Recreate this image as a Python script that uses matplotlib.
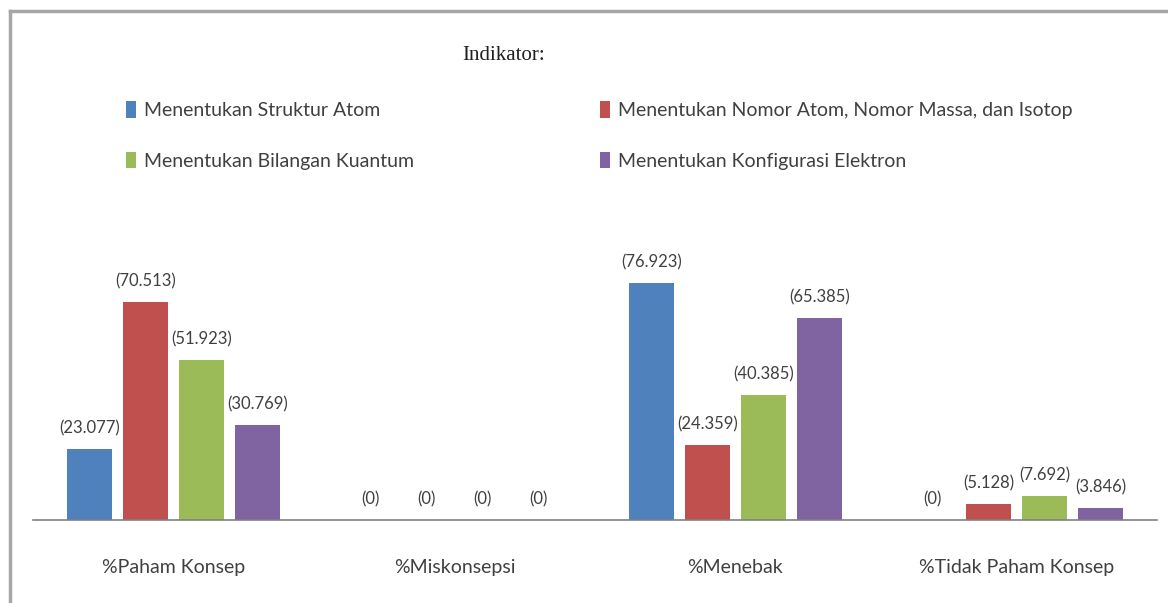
import numpy as np
import matplotlib
matplotlib.use('Agg')
from matplotlib import pyplot as plt
from matplotlib.lines import Line2D

categories = ['%Paham Konsep', '%Miskonsepsi', '%Menebak', '%Tidak Paham Konsep']
series = ['Menentukan Struktur Atom',
          'Menentukan Nomor Atom, Nomor Massa, dan Isotop',
          'Menentukan Bilangan Kuantum',
          'Menentukan Konfigurasi Elektron']
struktur = [23.077, 0, 76.923, 0]
nomor = [70.513, 0, 24.359, 5.128]
kuantum = [51.923, 0, 40.385, 7.692]
konfigurasi = [30.769, 0, 65.385, 3.846]
labels = [['(23.077)', '(0)', '(76.923)', '(0)'],
          ['(70.513)', '(0)', '(24.359)', '(5.128)'],
          ['(51.923)', '(0)', '(40.385)', '(7.692)'],
          ['(30.769)', '(0)', '(65.385)', '(3.846)']]
colors = ['#4F81BD', '#C0504D', '#9BBB59', '#8064A2']

SANS = ['Liberation Sans Narrow', 'Lato', 'DejaVu Sans']

fig = plt.figure(figsize=(11.68, 6.03), dpi=100)
ax = fig.add_axes([33 / 1168, 1 - 520 / 603, 1124 / 1168, 247 / 603])

x = np.arange(len(categories))
bars = []
for i, vals in enumerate([struktur, nomor, kuantum, konfigurasi]):
    b = ax.bar(x + (i - 1.5) * 0.2, vals, width=0.16, color=colors[i],
               label=series[i])
    bars.append(b)
    for rect, txt in zip(b, labels[i]):
        ax.annotate(txt, (rect.get_x() + rect.get_width() / 2, rect.get_height()),
                    xytext=(0, 9), textcoords='offset points', ha='center',
                    va='bottom', fontsize=12, color='#404040', family=SANS,
                    annotation_clip=False)

ax.set_xlim(-0.5, 3.5)
ax.set_ylim(0, 80)
ax.set_yticks([])
ax.set_xticks(x)
ax.set_xticklabels(categories, fontsize=14, color='#404040', family=SANS)
ax.tick_params(axis='x', length=0, pad=28)
for s in ['top', 'right', 'left']:
    ax.spines[s].set_visible(False)
ax.spines['bottom'].set_color('#808080')
ax.spines['bottom'].set_linewidth(1.2)

order = [0, 2, 1, 3]
leg = fig.legend([bars[k] for k in order], [series[k] for k in order],
                 ncol=2, loc='upper left', bbox_to_anchor=(108 / 1168, 1 - 84 / 603),
                 frameon=False, prop={'family': SANS, 'size': 14},
                 handlelength=0.55, handleheight=0.9, handletextpad=0.4,
                 labelspacing=1.67, columnspacing=9.55, labelcolor='#404040')

fig.text(504 / 1168, 1 - 55 / 603, 'Indikator:', ha='center', va='center',
         fontsize=15, family='Liberation Serif', color='#202020')

# outer frame (top and left edges)
fig.add_artist(Line2D([10 / 1168, 1], [1 - 11 / 603, 1 - 11 / 603],
                      transform=fig.transFigure, color='#A6A6A6', lw=2.5))
fig.add_artist(Line2D([10 / 1168, 10 / 1168], [0, 1 - 11 / 603],
                      transform=fig.transFigure, color='#A6A6A6', lw=2.5))

fig.savefig('out.png', dpi=100)
